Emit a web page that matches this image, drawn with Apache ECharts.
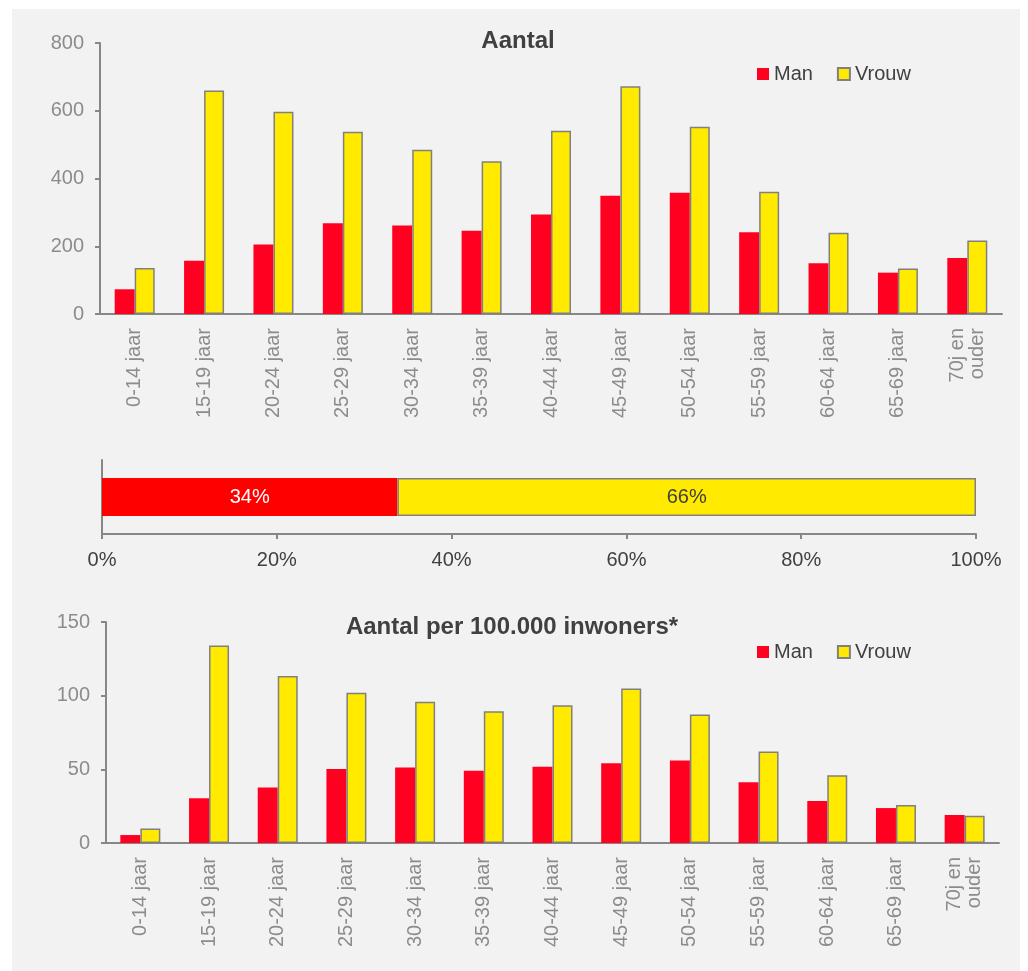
<!DOCTYPE html>
<html>
<head>
<meta charset="utf-8">
<script src="https://cdn.jsdelivr.net/npm/echarts@6/dist/echarts.min.js"></script>
<style>
  body { margin: 0; background: #fff; }
  #panel { position: absolute; left: 12px; top: 9px; width: 1008px; height: 962px; background: #f2f2f2; }
  #chart { position: absolute; left: 0; top: 0; width: 1028px; height: 971px; }
</style>
</head>
<body>
<div id="panel"></div>
<div id="chart"></div>
<script>
var categories = ["0-14 jaar", "15-19 jaar", "20-24 jaar", "25-29 jaar", "30-34 jaar", "35-39 jaar",
  "40-44 jaar", "45-49 jaar", "50-54 jaar", "55-59 jaar", "60-64 jaar", "65-69 jaar", "70j en\nouder"];
var aantalMan = [73, 157, 205, 268, 261, 246, 294, 349, 358, 241, 150, 122, 165];
var aantalVrouw = [136, 660, 597, 538, 485, 451, 541, 672, 553, 361, 240, 134, 217];
var shareMan = [33.8];
var shareVrouw = [66.2];
var perMan = [5.4, 30.3, 37.7, 50.2, 51.3, 49, 51.7, 54.2, 56, 41.3, 28.5, 23.7, 19];
var perVrouw = [9.9, 134, 113.4, 101.9, 95.8, 89.5, 93.5, 104.8, 87.3, 62.1, 45.9, 25.8, 18.5];

var red = "#ff0020";
var yellow = "#ffea00";
var axisGray = "#878787";
var labelGray = "#8c8c8c";
var font = "Liberation Sans, Arial, sans-serif";

var chart = echarts.init(document.getElementById("chart"));

function catAxis(grid) {
  return {
    type: "category", gridIndex: grid, data: categories,
    axisLine: { lineStyle: { color: axisGray, width: 2 } },
    axisTick: { length: 6, lineStyle: { color: axisGray, width: 2 } },
    axisLabel: { rotate: 90, margin: 14, color: labelGray, fontSize: 20, fontFamily: font, lineHeight: 20 }
  };
}
function valAxis(grid, max, interval) {
  return {
    type: "value", gridIndex: grid, min: 0, max: max, interval: interval,
    splitLine: { show: false },
    axisLine: { show: true, lineStyle: { color: axisGray, width: 2 } },
    axisTick: { show: true, length: 5, lineStyle: { color: axisGray, width: 2 } },
    axisLabel: { margin: 16, color: labelGray, fontSize: 20, fontFamily: font }
  };
}
var manStyle = { color: red };
var vrouwStyle = { color: yellow, borderColor: "#808080", borderWidth: 1.5 };

function legendAt(names, top) {
  return {
    data: names, left: 752, top: top, icon: "rect", itemWidth: 12, itemHeight: 12, itemGap: 24,
    formatter: function (n) { return n.trim(); },
    textStyle: { fontSize: 20, color: "#404040", fontFamily: font }
  };
}

var option = {
  animation: false,
  backgroundColor: "transparent",
  textStyle: { fontFamily: font },
  title: [
    { text: "Aantal", left: 513, top: 24, textAlign: "center",
      textStyle: { fontSize: 24, fontWeight: "bold", color: "#404040", fontFamily: font } },
    { text: "Aantal per 100.000 inwoners*", left: 507, top: 610, textAlign: "center",
      textStyle: { fontSize: 24, fontWeight: "bold", color: "#404040", fontFamily: font } }
  ],
  legend: [
    legendAt(["Man", "Vrouw"], 59),
    legendAt(["Man ", "Vrouw "], 637)
  ],
  grid: [
    { left: 100, top: 43, width: 902, height: 271 },
    { left: 102, top: 460, width: 874, height: 74 },
    { left: 106, top: 622, width: 893, height: 221 }
  ],
  xAxis: [
    catAxis(0),
    { type: "value", gridIndex: 1, min: 0, max: 100, interval: 20,
      splitLine: { show: false },
      axisLine: { show: true, lineStyle: { color: axisGray, width: 2 } },
      axisTick: { show: true, length: 5, lineStyle: { color: axisGray, width: 2 } },
      axisLabel: { margin: 16, color: "#404040", fontSize: 20, fontFamily: font, formatter: "{value}%" } },
    catAxis(2)
  ],
  yAxis: [
    valAxis(0, 800, 200),
    { type: "category", gridIndex: 1, data: [""],
      axisLine: { lineStyle: { color: axisGray, width: 2 } },
      axisTick: { length: 5, lineStyle: { color: axisGray, width: 2 } },
      axisLabel: { show: false } },
    valAxis(2, 150, 50)
  ],
  series: [
    { name: "Man", type: "bar", xAxisIndex: 0, yAxisIndex: 0, data: aantalMan,
      barWidth: 20, barGap: "0%", itemStyle: manStyle },
    { name: "Vrouw", type: "bar", xAxisIndex: 0, yAxisIndex: 0, data: aantalVrouw,
      barWidth: 20, barGap: "0%", itemStyle: vrouwStyle },
    { name: "ManShare", type: "bar", xAxisIndex: 1, yAxisIndex: 1, stack: "s", data: shareMan,
      barWidth: 38, itemStyle: { color: "#ff0000" },
      label: { show: true, position: "inside", color: "#fff", fontSize: 20, fontFamily: font,
        formatter: function (p) { return Math.round(p.value) + "%"; } } },
    { name: "VrouwShare", type: "bar", xAxisIndex: 1, yAxisIndex: 1, stack: "s", data: shareVrouw,
      barWidth: 38, itemStyle: vrouwStyle,
      label: { show: true, position: "inside", color: "#404040", fontSize: 20, fontFamily: font,
        formatter: function (p) { return Math.round(p.value) + "%"; } } },
    { name: "Man ", type: "bar", xAxisIndex: 2, yAxisIndex: 2, data: perMan,
      barWidth: 20, barGap: "0%", itemStyle: manStyle },
    { name: "Vrouw ", type: "bar", xAxisIndex: 2, yAxisIndex: 2, data: perVrouw,
      barWidth: 20, barGap: "0%", itemStyle: vrouwStyle }
  ]
};
chart.setOption(option);
</script>
</body>
</html>
